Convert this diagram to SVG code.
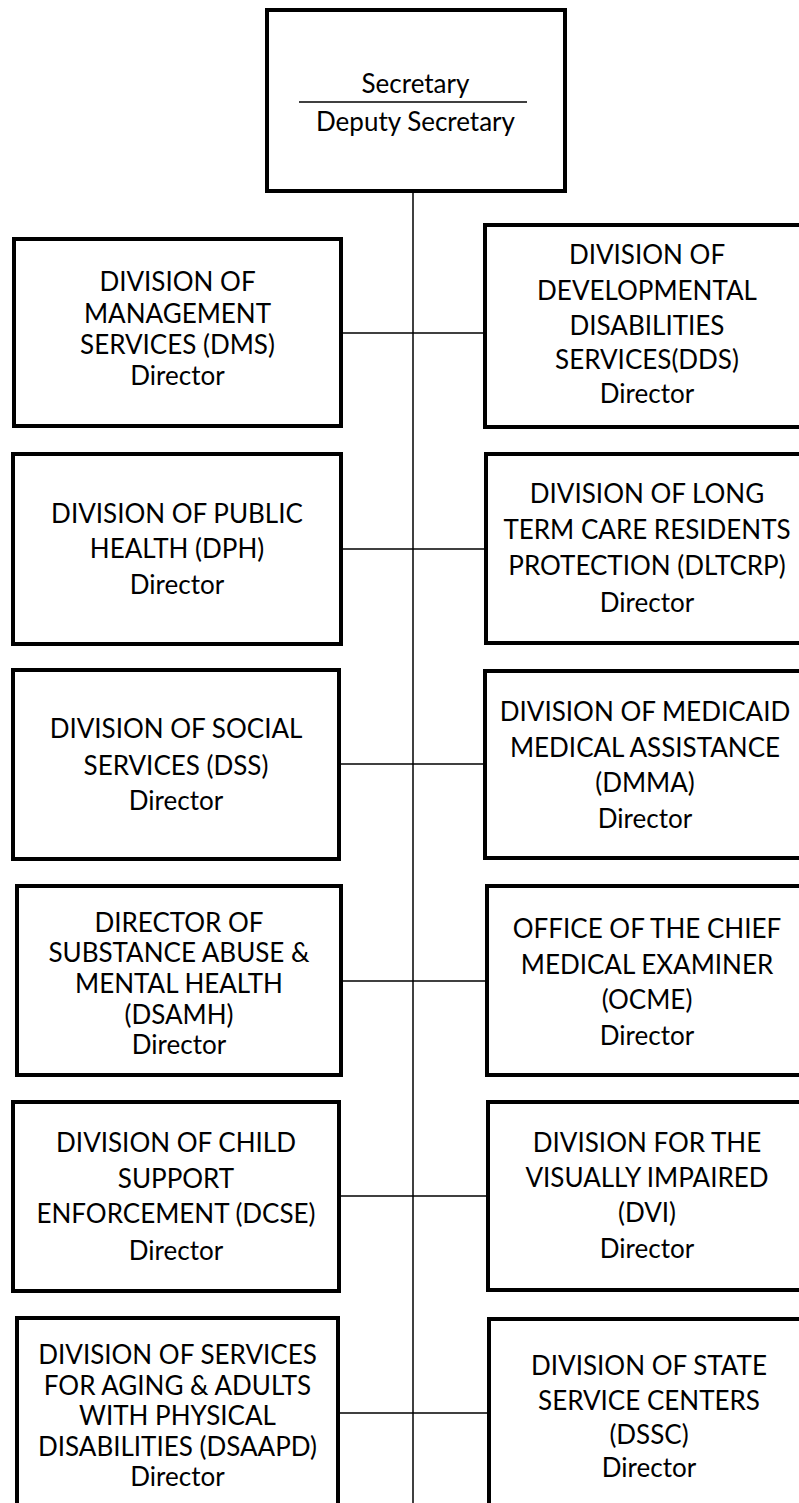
<svg xmlns="http://www.w3.org/2000/svg" width="799" height="1503" viewBox="0 0 799 1503">
<style>
  .box { fill: #ffffff; stroke: #000000; stroke-width: 4; }
  .conn { stroke: #000000; stroke-width: 1.5; fill: none; }
  text { font-family: Lato, "Open Sans", sans-serif; font-size: 26px; fill: #000000; text-anchor: middle; }
</style>
<rect x="0" y="0" width="799" height="1503" fill="#ffffff"/>
<g id="connectors">
  <line class="conn" x1="413" y1="193" x2="413" y2="1503"/>
  <line class="conn" x1="343" y1="333" x2="483" y2="333"/>
  <line class="conn" x1="343" y1="549" x2="484" y2="549"/>
  <line class="conn" x1="341" y1="764" x2="483" y2="764"/>
  <line class="conn" x1="343" y1="981" x2="485" y2="981"/>
  <line class="conn" x1="339" y1="1196" x2="486" y2="1196"/>
  <line class="conn" x1="340" y1="1413" x2="487" y2="1413"/>
</g>
<g id="secretary">
  <rect class="box" x="267" y="10" width="298" height="181"/>
  <text x="415.5" y="93">Secretary</text>
  <line class="conn" x1="299" y1="102" x2="527" y2="102"/>
  <text x="415.5" y="131">Deputy Secretary</text>
</g>
<g id="dms">
  <rect class="box" x="14" y="239" width="327" height="187"/>
  <text x="177.5" y="291">DIVISION OF</text>
  <text x="177.5" y="323">MANAGEMENT</text>
  <text x="177.5" y="354">SERVICES (DMS)</text>
  <text x="177.5" y="385">Director</text>
</g>
<g id="dds">
  <rect class="box" x="485" y="225" width="330" height="202"/>
  <text x="647" y="264">DIVISION OF</text>
  <text x="647" y="300">DEVELOPMENTAL</text>
  <text x="647" y="335">DISABILITIES</text>
  <text x="647" y="369">SERVICES(DDS)</text>
  <text x="647" y="403">Director</text>
</g>
<g id="dph">
  <rect class="box" x="13" y="454" width="328" height="190"/>
  <text x="177" y="523">DIVISION OF PUBLIC</text>
  <text x="177" y="558">HEALTH (DPH)</text>
  <text x="177" y="594">Director</text>
</g>
<g id="dltcrp">
  <rect class="box" x="486" y="454" width="330" height="189"/>
  <text x="647" y="503">DIVISION OF LONG</text>
  <text x="647" y="539">TERM CARE RESIDENTS</text>
  <text x="647" y="575">PROTECTION (DLTCRP)</text>
  <text x="647" y="612">Director</text>
</g>
<g id="dss">
  <rect class="box" x="13" y="670" width="326" height="189"/>
  <text x="176" y="738">DIVISION OF SOCIAL</text>
  <text x="176" y="775">SERVICES (DSS)</text>
  <text x="176" y="810">Director</text>
</g>
<g id="dmma">
  <rect class="box" x="485" y="671" width="330" height="187"/>
  <text x="645" y="721">DIVISION OF MEDICAID</text>
  <text x="645" y="757">MEDICAL ASSISTANCE</text>
  <text x="645" y="792">(DMMA)</text>
  <text x="645" y="828">Director</text>
</g>
<g id="dsamh">
  <rect class="box" x="17" y="886" width="324" height="189"/>
  <text x="179" y="932">DIRECTOR OF</text>
  <text x="179" y="962">SUBSTANCE ABUSE &amp;</text>
  <text x="179" y="993">MENTAL HEALTH</text>
  <text x="179" y="1024">(DSAMH)</text>
  <text x="179" y="1054">Director</text>
</g>
<g id="ocme">
  <rect class="box" x="487" y="886" width="330" height="189"/>
  <text x="647" y="938">OFFICE OF THE CHIEF</text>
  <text x="647" y="974">MEDICAL EXAMINER</text>
  <text x="647" y="1009">(OCME)</text>
  <text x="647" y="1045">Director</text>
</g>
<g id="dcse">
  <rect class="box" x="13" y="1102" width="326" height="189"/>
  <text x="176" y="1152">DIVISION OF CHILD</text>
  <text x="176" y="1188">SUPPORT</text>
  <text x="176" y="1223">ENFORCEMENT (DCSE)</text>
  <text x="176" y="1260">Director</text>
</g>
<g id="dvi">
  <rect class="box" x="488" y="1102" width="330" height="188"/>
  <text x="647" y="1152">DIVISION FOR THE</text>
  <text x="647" y="1187">VISUALLY IMPAIRED</text>
  <text x="647" y="1222">(DVI)</text>
  <text x="647" y="1258">Director</text>
</g>
<g id="dsaapd">
  <rect class="box" x="17" y="1318" width="321" height="200"/>
  <text x="177.5" y="1364">DIVISION OF SERVICES</text>
  <text x="177.5" y="1395">FOR AGING &amp; ADULTS</text>
  <text x="177.5" y="1425">WITH PHYSICAL</text>
  <text x="177.5" y="1456">DISABILITIES (DSAAPD)</text>
  <text x="177.5" y="1486">Director</text>
</g>
<g id="dssc">
  <rect class="box" x="489" y="1319" width="330" height="200"/>
  <text x="649" y="1375">DIVISION OF STATE</text>
  <text x="649" y="1410">SERVICE CENTERS</text>
  <text x="649" y="1444">(DSSC)</text>
  <text x="649" y="1477">Director</text>
</g>
</svg>
